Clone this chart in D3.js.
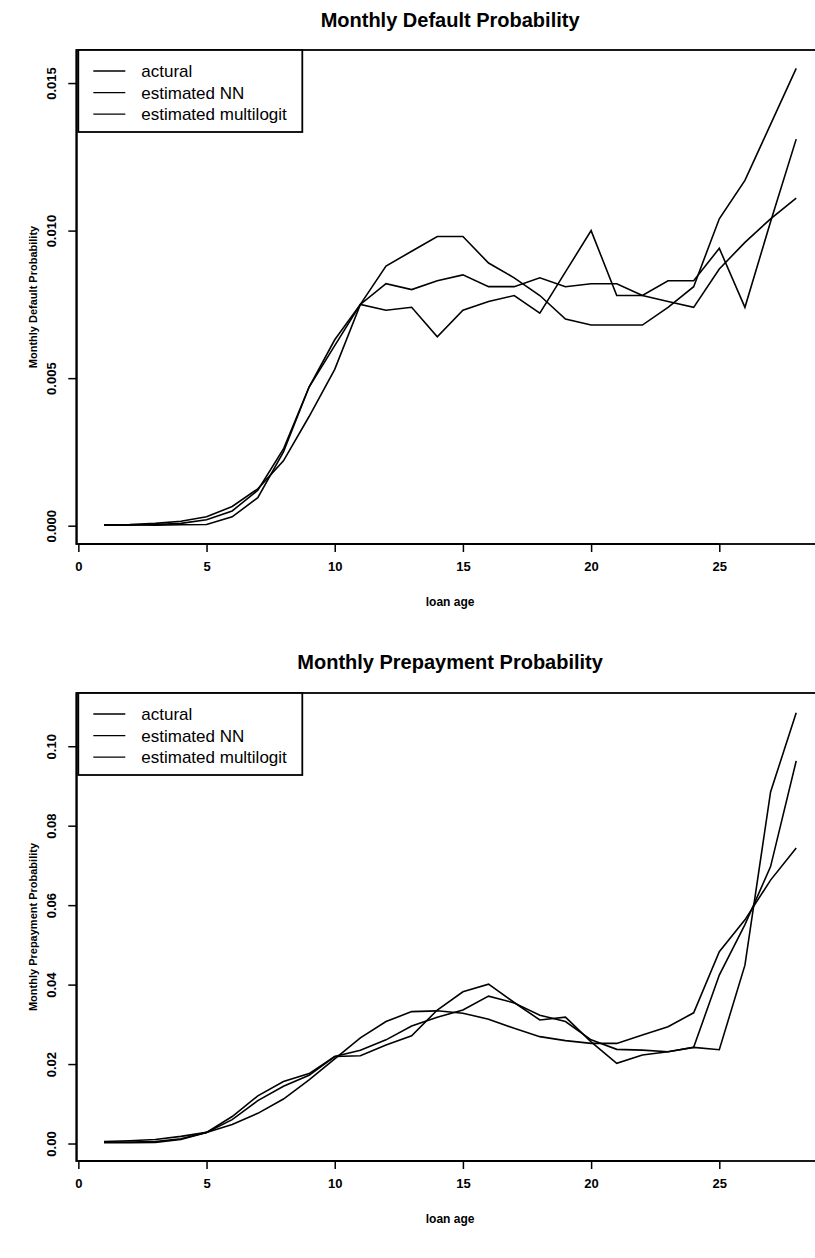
<!DOCTYPE html>
<html>
<head>
<meta charset="utf-8">
<script src="https://cdn.jsdelivr.net/npm/d3@7"></script>
<style>
  body { margin: 0; background: #fff; }
  svg { display: block; }
  text { font-family: "Liberation Sans", Arial, Helvetica, sans-serif; fill: #000; }
</style>
</head>
<body>
<svg id="chart" width="815" height="1258"></svg>
<script>
// Loan age (months) on the x axis
const loanAge = [1, 2, 3, 4, 5, 6, 7, 8, 9, 10, 11, 12, 13, 14, 15, 16, 17, 18, 19, 20, 21, 22, 23, 24, 25, 26, 27, 28];
const ageTicks = [0, 5, 10, 15, 20, 25];
const legendLabels = ["actural", "estimated NN", "estimated multilogit"];

// Monthly default probability
const defaultActual = [0.00003, 0.00003, 0.00002, 0.00003, 0.00004, 0.00030, 0.00095, 0.0025, 0.0047, 0.0061,
  0.0075, 0.0073, 0.0074, 0.0064, 0.0073, 0.0076, 0.0078, 0.0072, 0.0086, 0.0100,
  0.0078, 0.0078, 0.0083, 0.0083, 0.0094, 0.0074, 0.0103, 0.0131];
const defaultNN = [0.00002, 0.00002, 0.00004, 0.00008, 0.0002, 0.0005, 0.0012, 0.0026, 0.0047, 0.0063,
  0.0075, 0.0088, 0.0093, 0.0098, 0.0098, 0.0089, 0.0084, 0.0078, 0.0070, 0.0068,
  0.0068, 0.0068, 0.0074, 0.0081, 0.0104, 0.0117, 0.0136, 0.0155];
const defaultMultilogit = [0.00003, 0.00004, 0.00008, 0.00015, 0.0003, 0.00065, 0.00125, 0.0022, 0.0037, 0.0053,
  0.0075, 0.0082, 0.0080, 0.0083, 0.0085, 0.0081, 0.0081, 0.0084, 0.0081, 0.0082,
  0.0082, 0.0078, 0.0076, 0.0074, 0.0087, 0.0096, 0.0104, 0.0111];
const defaultTicks = [0, 0.005, 0.010, 0.015];

// Monthly prepayment probability
const prepayActual = [0.0002, 0.0002, 0.0003, 0.0010, 0.0028, 0.0060, 0.0108, 0.0144, 0.0172, 0.0219,
  0.0235, 0.0261, 0.0296, 0.0318, 0.0336, 0.0371, 0.0354, 0.0323, 0.0307, 0.0261,
  0.0237, 0.0235, 0.0231, 0.0242, 0.0236, 0.0449, 0.0885, 0.1084];
const prepayNN = [0.0004, 0.0004, 0.0005, 0.0012, 0.0028, 0.0068, 0.0120, 0.0156, 0.0176, 0.0219,
  0.0221, 0.0248, 0.0271, 0.0336, 0.0382, 0.0401, 0.0355, 0.0311, 0.0318, 0.0256,
  0.0202, 0.0223, 0.0231, 0.0242, 0.0424, 0.0551, 0.0697, 0.0963];
const prepayMultilogit = [0.0005, 0.0007, 0.0010, 0.0018, 0.0028, 0.0048, 0.0076, 0.0112, 0.0160, 0.0213,
  0.0266, 0.0307, 0.0332, 0.0334, 0.0328, 0.0313, 0.0290, 0.0269, 0.0259, 0.0252,
  0.0252, 0.0273, 0.0294, 0.0329, 0.0483, 0.0563, 0.0663, 0.0744];
const prepayTicks = [0, 0.02, 0.04, 0.06, 0.08, 0.10];

const svg = d3.select("#chart");

// Shared horizontal scale (4% padding around ages 1..28)
const x = d3.scaleLinear().domain([-0.08, 29.08]).range([76.3, 823.9]);

const panels = [
  {
    title: "Monthly Default Probability",
    yTitle: "Monthly Default Probability",
    series: [defaultActual, defaultNN, defaultMultilogit],
    ticks: defaultTicks,
    fmt: d3.format(".3f"),
    domain: [-0.00062, 0.01612],
    top: 50, bottom: 544,
    titleY: 27, legendH: 82
  },
  {
    title: "Monthly Prepayment Probability",
    yTitle: "Monthly Prepayment Probability",
    series: [prepayActual, prepayNN, prepayMultilogit],
    ticks: prepayTicks,
    fmt: d3.format(".2f"),
    domain: [-0.0044, 0.1134],
    top: 693, bottom: 1161,
    titleY: 669, legendH: 82
  }
];

panels.forEach(p => {
  const g = svg.append("g");
  const y = d3.scaleLinear().domain(p.domain).range([p.bottom, p.top]);
  const left = x.range()[0], right = x.range()[1];

  // title
  g.append("text")
    .attr("x", (left + right) / 2).attr("y", p.titleY)
    .attr("text-anchor", "middle")
    .style("font-size", "20px").style("font-weight", "bold")
    .text(p.title);

  // series
  const line = d3.line().x((d, i) => x(loanAge[i])).y(d => y(d));
  p.series.forEach(s => {
    g.append("path").datum(s)
      .attr("d", line)
      .attr("fill", "none")
      .attr("stroke", "#000")
      .attr("stroke-width", 1.6)
      .attr("stroke-linejoin", "miter");
  });

  // plot frame
  g.append("rect")
    .attr("x", left).attr("y", p.top)
    .attr("width", right - left).attr("height", p.bottom - p.top)
    .attr("fill", "none").attr("stroke", "#000").attr("stroke-width", 1.8);

  // x axis
  const xAxis = g.append("g")
    .attr("transform", `translate(0,${p.bottom})`)
    .call(d3.axisBottom(x).tickValues(ageTicks).tickSize(8).tickPadding(10).tickSizeOuter(0));
  xAxis.select(".domain").attr("d", `M${x(0)},0H${x(25)}`).attr("stroke-width", 1.8);
  xAxis.selectAll(".tick line").attr("stroke-width", 1.5);
  xAxis.selectAll("text").style("font-size", "13px").style("font-weight", "bold");

  g.append("text")
    .attr("x", (left + right) / 2).attr("y", p.bottom + 62)
    .attr("text-anchor", "middle")
    .style("font-size", "12px").style("font-weight", "bold")
    .text("loan age");

  // y axis with rotated labels
  const yAxis = g.append("g")
    .attr("transform", `translate(${left},0)`)
    .call(d3.axisLeft(y).tickValues(p.ticks).tickFormat(p.fmt).tickSize(8).tickSizeOuter(0));
  yAxis.select(".domain").attr("stroke-width", 1.8);
  yAxis.selectAll(".tick line").attr("stroke-width", 1.5);
  yAxis.selectAll("text")
    .attr("x", 0).attr("dy", 0)
    .attr("transform", "translate(-20,0) rotate(-90)")
    .attr("text-anchor", "middle")
    .style("font-size", "13px").style("font-weight", "bold");

  g.append("text")
    .attr("transform", `translate(37,${(p.top + p.bottom) / 2}) rotate(-90)`)
    .attr("text-anchor", "middle")
    .style("font-size", "11px").style("font-weight", "bold")
    .text(p.yTitle);

  // legend
  const lg = g.append("g").attr("transform", `translate(${left + 2},${p.top})`);
  lg.append("rect")
    .attr("width", 224).attr("height", p.legendH)
    .attr("fill", "#fff").attr("stroke", "#000").attr("stroke-width", 1.8);
  legendLabels.forEach((lab, i) => {
    const ly = 21 + i * 21.6;
    lg.append("line")
      .attr("x1", 15).attr("x2", 47).attr("y1", ly).attr("y2", ly)
      .attr("stroke", "#000").attr("stroke-width", 1.3);
    lg.append("text")
      .attr("x", 63).attr("y", ly).attr("dy", "0.35em")
      .style("font-size", "17px")
      .text(lab);
  });
});
</script>
</body>
</html>
